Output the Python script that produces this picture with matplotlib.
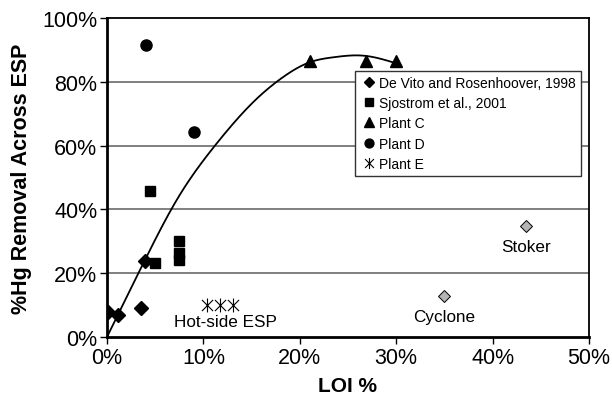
import numpy as np
import matplotlib
matplotlib.use("Agg")
import matplotlib.pyplot as plt
from matplotlib.path import Path
from matplotlib.ticker import FuncFormatter

plt.rcParams['font.family'] = ['Liberation Sans', 'DejaVu Sans']

# LOI (%) and mercury removal (%) for each data source
devito_loi = [0.1, 1.1, 3.5, 3.9]
devito_hg = [7.7, 7.0, 9.0, 23.9]

sjostrom_loi = [4.5, 5.0, 7.5, 7.5, 7.5]
sjostrom_hg = [45.9, 23.2, 30.0, 26.2, 24.1]

plant_c_loi = [21.1, 26.9, 30.0]
plant_c_hg = [86.6, 86.6, 86.6]

plant_d_loi = [4.0, 9.0]
plant_d_hg = [91.5, 64.2]

plant_e_loi = [10.4, 11.7, 13.1]
plant_e_hg = [10.0, 10.0, 10.0]

other_loi = [35.0, 43.5]
other_hg = [12.9, 34.9]
other_labels = ["Cyclone", "Stoker"]

# Trend line through the data
trend_loi = [0.0, 3.9, 7.3, 11.2, 15.5, 18.0, 21.1, 23.5, 26.6, 30.0]
trend_hg = [0.0, 23.9, 43.3, 60.0, 74.6, 80.9, 86.2, 87.7, 88.2, 85.8]

x_ticks = [0, 10, 20, 30, 40, 50]
y_ticks = [0, 20, 40, 60, 80, 100]


def natural_spline(xs, ys, n=400):
    x = np.asarray(xs, float)
    y = np.asarray(ys, float)
    m = len(x)
    h = np.diff(x)
    A = np.zeros((m, m))
    b = np.zeros(m)
    A[0, 0] = A[-1, -1] = 1.0
    for i in range(1, m - 1):
        A[i, i - 1] = h[i - 1]
        A[i, i] = 2 * (h[i - 1] + h[i])
        A[i, i + 1] = h[i]
        b[i] = 6 * ((y[i + 1] - y[i]) / h[i] - (y[i] - y[i - 1]) / h[i - 1])
    M = np.linalg.solve(A, b)
    xx = np.linspace(x[0], x[-1], n)
    idx = np.clip(np.searchsorted(x, xx) - 1, 0, m - 2)
    x0, x1 = x[idx], x[idx + 1]
    hh = x1 - x0
    t0 = x1 - xx
    t1 = xx - x0
    yy = (M[idx] * t0 ** 3 / (6 * hh) + M[idx + 1] * t1 ** 3 / (6 * hh)
          + (y[idx] / hh - M[idx] * hh / 6) * t0
          + (y[idx + 1] / hh - M[idx + 1] * hh / 6) * t1)
    return xx, yy


# Asterisk marker: an "x" crossed by a vertical stroke
star_marker = Path(
    [(-1, -1), (1, 1), (-1, 1), (1, -1), (0, -1.25), (0, 1.25)],
    [Path.MOVETO, Path.LINETO, Path.MOVETO, Path.LINETO, Path.MOVETO, Path.LINETO],
)

fig = plt.figure(figsize=(6.12, 4.02), dpi=100)
ax = fig.add_axes([0.1748, 0.1592, 0.7876, 0.7935])

ax.set_xlim(0, 50)
ax.set_ylim(0, 100)
ax.set_xticks(x_ticks)
ax.set_yticks(y_ticks)
pct = FuncFormatter(lambda v, p: f"{v:.0f}%")
ax.xaxis.set_major_formatter(pct)
ax.yaxis.set_major_formatter(pct)
ax.tick_params(axis='both', direction='out', length=5, width=1, labelsize=15.5,
               pad=2, color='black')

for v in y_ticks[1:-1]:
    ax.axhline(v, color='#6a6a6a', lw=1.2, zorder=1)

ax.spines['left'].set_linewidth(2.0)
ax.spines['bottom'].set_linewidth(2.0)
ax.spines['top'].set_linewidth(1.3)
ax.spines['right'].set_linewidth(1.3)

tx, ty = natural_spline(trend_loi, trend_hg)
ax.plot(tx, ty, color='black', lw=1.3, zorder=2)

ax.plot(devito_loi, devito_hg, ls='none', marker='D', ms=7, color='black',
        label='De Vito and Rosenhoover, 1998', zorder=3)
ax.plot(sjostrom_loi, sjostrom_hg, ls='none', marker='s', ms=7.5, color='black',
        label='Sjostrom et al., 2001', zorder=3)
ax.plot(plant_c_loi, plant_c_hg, ls='none', marker='^', ms=8.5, color='black',
        label='Plant C', zorder=3)
ax.plot(plant_d_loi, plant_d_hg, ls='none', marker='o', ms=8, color='black',
        label='Plant D', zorder=3)
ax.plot(plant_e_loi, plant_e_hg, ls='none', marker=star_marker, ms=10,
        mew=0.8, color='black', label='Plant E', zorder=3)

ax.plot(other_loi, other_hg, ls='none', marker='D', ms=6, mfc='#b4b4b4',
        mec='black', mew=0.7, zorder=3)

ax.text(12.25, 4.8, "Hot-side ESP", fontsize=12.3, ha='center', va='center')
ax.text(other_loi[0], other_hg[0] - 6.6, other_labels[0], fontsize=12.3,
        ha='center', va='center')
ax.text(other_loi[1], other_hg[1] - 6.6, other_labels[1], fontsize=12.3,
        ha='center', va='center')

ax.set_xlabel("LOI %", fontsize=15, fontweight='bold', labelpad=6)
ax.set_ylabel("%Hg Removal Across ESP", fontsize=15.5, fontweight='bold', labelpad=7)

leg = ax.legend(loc='upper left', bbox_to_anchor=(0.5145, 0.834), fontsize=10,
                frameon=True, fancybox=False, framealpha=1, edgecolor='#333333',
                handlelength=1.3, handletextpad=0.1, borderpad=0.35,
                labelspacing=0.45, borderaxespad=0, markerscale=0.8)
leg.get_frame().set_linewidth(1.0)
leg.set_zorder(5)

fig.savefig("out.png", dpi=100)
